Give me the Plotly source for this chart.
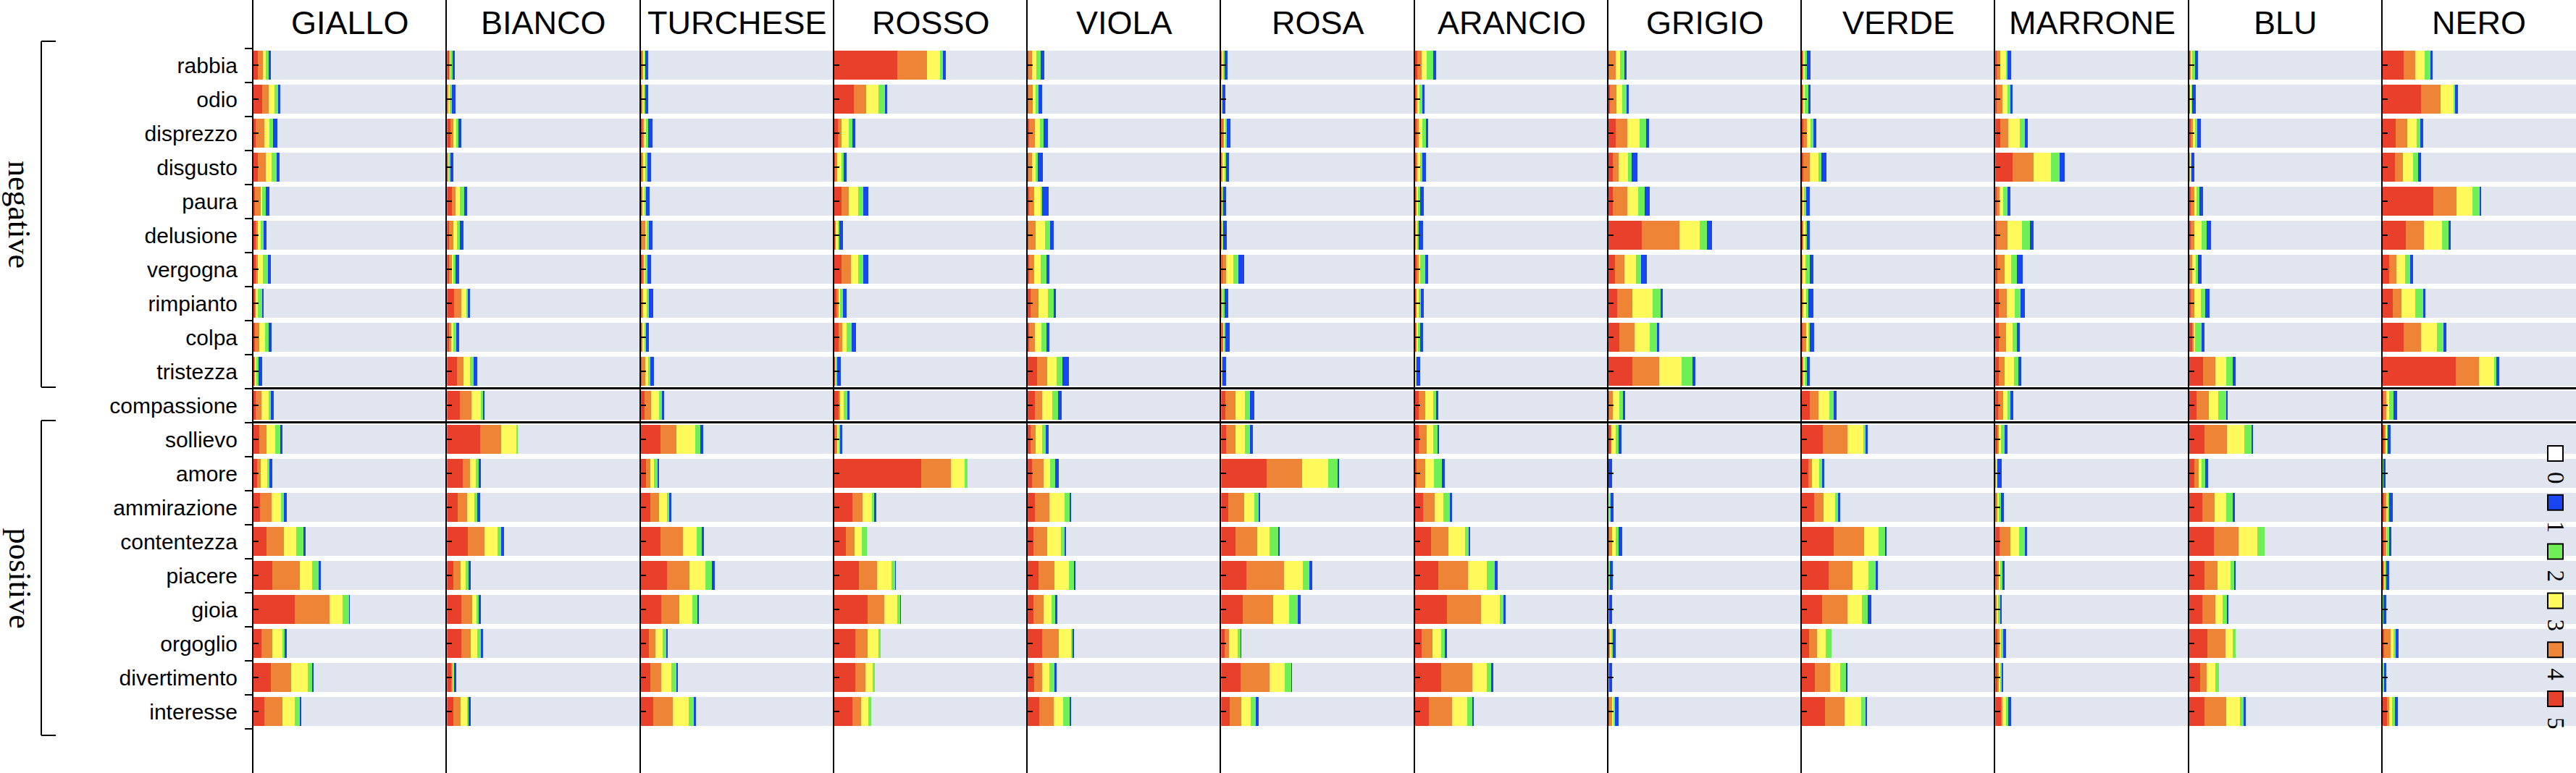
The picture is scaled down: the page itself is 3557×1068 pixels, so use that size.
import plotly.graph_objects as go
from plotly.subplots import make_subplots

W, H = 3557, 1068
ML = 350

COLOUR_NAMES = ["GIALLO", "BIANCO", "TURCHESE", "ROSSO", "VIOLA", "ROSA",
                "ARANCIO", "GRIGIO", "VERDE", "MARRONE", "BLU", "NERO"]
EMOTIONS = ["rabbia", "odio", "disprezzo", "disgusto", "paura", "delusione",
            "vergogna", "rimpianto", "colpa", "tristezza", "compassione",
            "sollievo", "amore", "ammirazione", "contentezza", "piacere",
            "gioia", "orgoglio", "divertimento", "interesse"]
LEVELS = ["5", "4", "3", "2", "1"]          # order of the values in each row
LEVEL_COLOURS = {"5": "#E8402A", "4": "#EE8536", "3": "#FFF95C",
                 "2": "#6EEF55", "1": "#1745F2", "0": "#E1E5EF"}

# percentage of answers per level [5, 4, 3, 2, 1]; level 0 is the remainder
GIALLO = [[2.2, 2.5, 1.8, 1.3, 1.3], [4.6, 3.3, 3.0, 1.8, 1.2], [1.3, 4.3, 2.6, 2.0, 2.2],
          [2.4, 3.9, 2.9, 2.6, 1.7], [0.7, 2.9, 1.0, 1.7, 1.8], [1.0, 1.2, 1.4, 1.7, 1.4],
          [1.2, 1.0, 2.7, 2.4, 1.8], [0.8, 0.5, 0.9, 2.2, 1.0], [0.7, 2.4, 3.0, 1.6, 1.6],
          [0.6, 0.4, 0.5, 1.0, 2.0], [1.0, 3.1, 3.7, 1.3, 1.3], [2.9, 4.0, 4.4, 2.6, 1.0],
          [2.0, 1.6, 3.4, 1.3, 1.3], [3.5, 5.9, 4.7, 1.8, 1.2], [6.8, 8.9, 6.5, 3.5, 1.3],
          [9.9, 14.1, 6.3, 3.7, 0.7], [21.4, 17.9, 6.8, 3.5, 0.1], [4.2, 5.5, 5.1, 1.6, 0.7],
          [8.9, 10.5, 8.5, 2.6, 0.7], [5.6, 9.5, 6.4, 2.4, 0.9]]
BIANCO = [[1.2, 0.5, 0.5, 0.7, 1.4], [0.4, 0.3, 0.8, 1.2, 1.7], [1.7, 1.8, 1.3, 1.0, 1.7],
          [0.5, 0.4, 0.5, 0.4, 1.7], [2.6, 2.0, 2.2, 2.2, 1.3], [1.3, 2.0, 1.8, 1.8, 1.6],
          [1.3, 1.2, 0.8, 1.2, 2.0], [3.9, 3.5, 2.6, 1.0, 1.0], [1.3, 0.9, 1.3, 1.3, 1.6],
          [5.2, 3.5, 3.4, 1.8, 2.0], [6.8, 6.0, 4.8, 1.3, 0.7], [17.3, 10.9, 7.8, 0.7, 0.0],
          [8.2, 3.8, 3.0, 1.3, 1.3], [5.5, 4.8, 4.1, 1.3, 1.4], [10.9, 8.5, 6.8, 2.0, 1.2],
          [3.5, 3.7, 2.6, 1.3, 1.2], [7.6, 5.5, 2.6, 0.7, 1.3], [7.6, 4.8, 3.3, 1.7, 1.2],
          [2.4, 0.7, 0.3, 0.4, 1.2], [3.5, 3.7, 3.3, 0.7, 1.2]]
TURCHESE = [[0.7, 0.6, 0.6, 0.4, 1.4], [0.4, 0.5, 0.8, 0.6, 1.3], [0.9, 0.5, 1.2, 1.0, 2.5],
            [0.6, 0.5, 1.2, 0.9, 2.1], [0.4, 0.4, 1.2, 0.8, 1.6], [0.4, 2.0, 0.6, 1.3, 1.8],
            [0.6, 0.9, 0.8, 0.9, 2.1], [0.6, 0.6, 1.7, 1.3, 2.0], [0.4, 0.3, 1.3, 0.6, 1.6],
            [0.4, 2.0, 1.3, 1.2, 1.7], [2.0, 3.3, 3.9, 1.7, 1.2], [10.0, 8.5, 9.5, 2.6, 1.7],
            [2.7, 2.1, 2.1, 1.8, 0.8], [4.8, 4.6, 4.0, 1.3, 0.9], [10.0, 11.7, 7.2, 2.7, 0.9],
            [13.3, 11.7, 8.2, 3.4, 1.4], [10.6, 9.1, 7.0, 2.6, 0.8], [4.0, 3.5, 3.9, 1.8, 0.8],
            [4.8, 5.5, 5.6, 2.7, 0.4], [6.4, 10.2, 8.0, 2.9, 0.8]]
ROSSO = [[32.4, 15.4, 6.8, 1.7, 1.3], [10.2, 6.3, 6.5, 3.3, 1.2], [1.7, 2.2, 3.7, 1.6, 1.7],
         [0.7, 0.7, 2.4, 1.0, 1.6], [3.7, 3.7, 4.8, 2.9, 2.5], [0.7, 0.4, 0.7, 0.9, 1.7],
         [3.7, 4.8, 3.7, 2.9, 2.5], [1.3, 1.2, 0.5, 1.6, 1.7], [2.1, 2.2, 2.2, 2.4, 2.2],
         [0.4, 0.2, 0.4, 0.5, 1.7], [2.1, 0.9, 1.7, 2.2, 1.0], [0.7, 0.7, 1.0, 0.7, 0.9],
         [44.8, 15.3, 7.3, 1.6, 0.0], [9.2, 5.4, 4.8, 1.3, 0.9], [6.0, 4.6, 3.5, 2.7, 0.0],
         [12.8, 9.2, 7.5, 2.1, 0.3], [17.1, 8.8, 6.8, 1.4, 0.4], [10.7, 6.4, 5.9, 0.9, 0.0],
         [10.7, 5.4, 3.7, 1.2, 0.0], [9.3, 4.4, 3.9, 1.4, 0.0]]
VIOLA = [[0.4, 2.0, 2.0, 2.2, 2.0], [0.4, 2.2, 1.7, 1.3, 2.0], [0.9, 3.0, 2.4, 1.8, 2.5],
         [0.4, 2.0, 1.6, 1.4, 2.6], [0.9, 2.4, 3.3, 1.0, 3.1], [0.4, 3.9, 4.8, 2.4, 1.8],
         [0.6, 2.6, 3.5, 3.0, 1.6], [1.6, 3.9, 5.0, 2.9, 1.3], [0.9, 3.0, 3.3, 2.4, 1.6],
         [5.0, 5.2, 4.6, 3.3, 3.3], [3.9, 3.5, 5.4, 3.1, 1.7], [1.6, 2.6, 3.3, 1.7, 1.7],
         [2.4, 5.8, 3.4, 2.6, 1.8], [3.9, 7.5, 7.8, 2.4, 0.8], [2.9, 7.2, 7.2, 1.7, 1.0],
         [5.5, 8.5, 7.3, 2.6, 0.9], [2.9, 5.2, 4.1, 2.2, 0.9], [7.6, 8.5, 6.4, 0.8, 0.7],
         [3.3, 4.3, 3.8, 2.6, 0.8], [5.9, 7.5, 5.0, 3.3, 0.9]]
ROSA = [[0.4, 0.2, 0.6, 0.6, 1.7], [0.2, 0.1, 0.1, 0.4, 1.3], [0.6, 1.0, 0.7, 0.7, 1.7],
        [0.4, 0.4, 1.3, 0.4, 1.8], [0.3, 0.1, 0.2, 0.4, 1.7], [0.3, 0.1, 0.4, 0.5, 1.6],
        [0.8, 2.0, 3.5, 2.6, 2.9], [0.4, 0.1, 0.6, 0.6, 2.0], [0.8, 0.5, 0.4, 0.7, 2.0],
        [0.2, 0.1, 0.2, 0.4, 1.7], [2.4, 5.2, 4.6, 2.9, 2.0], [2.7, 4.8, 5.0, 2.6, 1.2],
        [23.5, 18.4, 13.3, 5.0, 0.9], [3.9, 8.2, 5.0, 2.2, 1.0], [7.6, 11.1, 6.5, 4.2, 0.8],
        [13.1, 19.6, 9.5, 3.5, 1.4], [11.2, 15.9, 8.1, 4.6, 1.3], [1.7, 2.4, 4.4, 1.7, 0.4],
        [10.2, 14.8, 8.1, 3.3, 0.4], [4.6, 6.0, 4.6, 2.9, 1.3]]
ARANCIO = [[1.3, 2.0, 2.6, 3.3, 1.6], [0.4, 0.9, 1.0, 1.3, 1.2], [0.6, 1.3, 2.0, 1.6, 1.4],
           [0.6, 0.7, 1.4, 1.2, 1.6], [0.4, 0.7, 0.7, 0.7, 2.0], [0.3, 0.2, 0.5, 0.8, 2.2],
           [0.6, 1.3, 0.9, 2.4, 1.7], [0.4, 0.2, 1.4, 0.9, 1.7], [0.6, 0.4, 0.5, 1.3, 1.3],
           [0.2, 0.1, 0.3, 0.3, 1.7], [2.0, 3.3, 3.9, 2.0, 0.7], [2.0, 3.9, 3.3, 2.6, 0.7],
           [0.6, 4.8, 4.3, 4.3, 1.2], [4.2, 6.0, 4.4, 3.4, 0.9], [8.1, 9.2, 8.5, 2.1, 0.5],
           [11.8, 15.4, 9.7, 4.3, 1.3], [16.6, 17.6, 9.5, 2.0, 1.0], [3.3, 5.5, 4.7, 2.2, 0.7],
           [13.5, 15.9, 7.8, 2.4, 0.7], [7.2, 12.0, 7.8, 2.4, 0.8]]
GRIGIO = [[0.4, 3.5, 2.1, 2.2, 1.3], [0.7, 3.4, 3.1, 2.0, 1.4], [3.9, 5.9, 6.3, 3.3, 1.7],
          [2.1, 3.3, 4.6, 2.0, 2.9], [2.4, 7.5, 5.6, 3.3, 2.4], [17.1, 19.6, 10.3, 3.7, 2.9],
          [3.4, 4.8, 5.9, 2.9, 2.7], [4.6, 7.8, 10.6, 3.8, 1.4], [5.6, 7.8, 8.1, 3.7, 1.0],
          [12.2, 14.1, 11.6, 5.4, 1.6], [0.4, 2.0, 3.3, 1.7, 1.2], [1.3, 0.3, 2.1, 1.7, 1.3],
          [0.0, 0.0, 0.0, 0.1, 1.7], [0.2, 0.1, 0.4, 0.6, 1.3], [0.3, 1.7, 1.6, 1.6, 2.0],
          [0.0, 0.0, 0.2, 0.5, 1.6], [0.0, 0.0, 0.0, 0.2, 1.6], [0.6, 0.3, 0.7, 0.8, 1.4],
          [0.0, 0.0, 0.1, 0.2, 1.5], [0.4, 1.3, 1.0, 0.7, 1.7]]
VERDE = [[0.4, 0.3, 0.8, 1.0, 2.0], [0.4, 0.3, 0.9, 1.6, 1.4], [0.8, 2.0, 1.8, 1.3, 1.7],
         [0.8, 3.5, 4.3, 1.6, 2.6], [0.3, 0.2, 0.8, 0.8, 2.2], [0.5, 0.4, 0.8, 0.9, 1.6],
         [0.3, 0.2, 1.5, 2.0, 1.8], [0.3, 0.6, 1.3, 1.3, 2.6], [0.3, 2.0, 1.0, 0.9, 2.0],
         [0.4, 0.3, 0.8, 1.0, 1.6], [4.3, 4.2, 5.6, 2.4, 1.6], [10.9, 12.7, 8.2, 1.3, 0.9],
         [3.3, 2.1, 3.5, 1.7, 0.9], [6.3, 5.0, 5.9, 1.6, 0.9], [16.5, 15.6, 7.6, 3.3, 0.9],
         [13.7, 12.5, 8.4, 3.4, 1.2], [10.6, 12.9, 7.6, 3.0, 1.7], [3.7, 4.2, 4.3, 3.3, 0.0],
         [6.9, 7.8, 5.2, 2.9, 0.8], [11.9, 10.1, 8.5, 2.6, 0.7]]
MARRONE = [[0.6, 2.0, 3.3, 0.6, 1.6], [0.6, 3.0, 2.6, 1.6, 1.3], [2.6, 4.2, 5.9, 2.7, 1.6],
           [8.9, 11.0, 8.9, 4.6, 2.6], [0.6, 1.7, 1.8, 2.1, 1.6], [0.6, 5.6, 7.7, 3.9, 2.1],
           [1.3, 3.5, 3.3, 3.0, 3.0], [2.0, 3.9, 4.2, 3.0, 2.4], [2.0, 3.7, 3.1, 2.4, 1.6],
           [2.0, 2.9, 4.7, 2.2, 1.6], [1.6, 2.6, 2.1, 1.6, 1.6], [1.3, 0.7, 0.9, 2.0, 1.3],
           [0.3, 0.4, 0.4, 0.2, 2.2], [0.6, 0.6, 1.0, 0.7, 1.6], [2.4, 5.5, 4.3, 3.3, 0.9],
           [0.6, 1.3, 1.0, 0.7, 1.2], [0.4, 0.3, 0.9, 0.9, 0.9], [1.0, 1.6, 0.4, 1.3, 1.3],
           [1.3, 0.6, 1.0, 0.5, 0.8], [3.0, 0.9, 1.6, 1.4, 1.2]]
BLU = [[0.6, 0.4, 0.6, 1.3, 1.5], [0.6, 0.1, 0.6, 0.3, 1.9], [0.6, 1.4, 0.9, 1.3, 1.9],
       [0.3, 0.2, 0.4, 0.4, 1.3], [0.6, 2.1, 1.2, 1.3, 1.9], [0.6, 2.1, 3.5, 2.6, 2.3],
       [0.4, 1.0, 1.8, 1.3, 1.9], [0.6, 2.1, 3.1, 2.3, 2.2], [1.5, 1.0, 0.5, 3.5, 1.4],
       [7.2, 6.3, 5.5, 3.6, 1.5], [3.8, 6.2, 4.9, 4.1, 1.0], [7.8, 11.8, 8.7, 3.7, 0.8],
       [2.7, 2.2, 1.5, 1.9, 1.3], [6.8, 6.2, 6.0, 3.8, 0.6], [12.8, 12.8, 9.7, 3.8, 0.0],
       [7.8, 6.9, 6.8, 1.9, 0.6], [6.8, 6.7, 3.8, 2.3, 0.6], [9.4, 9.4, 3.8, 1.3, 0.0],
       [5.5, 3.6, 4.5, 1.8, 0.0], [7.7, 11.5, 7.1, 2.1, 0.6]]
NERO = [[10.9, 5.8, 4.9, 3.2, 1.2], [19.9, 10.0, 6.7, 1.0, 1.5], [6.8, 5.8, 5.1, 1.9, 1.2],
        [6.4, 4.2, 5.0, 2.6, 1.7], [26.3, 11.9, 8.3, 3.5, 1.0], [11.9, 9.6, 9.2, 3.5, 1.0],
        [3.2, 3.8, 4.7, 2.7, 1.5], [5.1, 4.5, 7.3, 4.0, 1.3], [10.9, 9.0, 8.1, 3.5, 1.5],
        [37.8, 11.9, 7.9, 1.3, 1.3], [0.4, 1.5, 1.4, 2.2, 1.9], [0.8, 0.9, 0.6, 0.4, 1.5],
        [0.0, 0.0, 0.0, 0.2, 1.3], [0.8, 1.1, 1.0, 0.6, 1.7], [0.8, 0.9, 0.9, 0.6, 1.3],
        [0.4, 0.6, 0.3, 0.6, 1.3], [0.0, 0.0, 0.0, 0.3, 1.6], [0.8, 3.2, 1.5, 1.3, 1.3],
        [0.0, 0.0, 0.2, 0.6, 1.2], [2.3, 0.9, 1.7, 1.3, 1.5]]

TABLE = [GIALLO, BIANCO, TURCHESE, ROSSO, VIOLA, ROSA,
         ARANCIO, GRIGIO, VERDE, MARRONE, BLU, NERO]

NCOL = len(COLOUR_NAMES)
rows_y = list(range(len(EMOTIONS)))

fig = make_subplots(rows=1, cols=NCOL, shared_yaxes=True, horizontal_spacing=0)

for c, (name, data) in enumerate(zip(COLOUR_NAMES, TABLE)):
    for li, lvl in enumerate(LEVELS):
        fig.add_trace(go.Bar(
            x=[row[li] for row in data], y=rows_y, orientation="h",
            width=0.86, name=lvl, showlegend=False,
            marker=dict(color=LEVEL_COLOURS[lvl], line_width=0)),
            row=1, col=c + 1)
    fig.add_trace(go.Bar(
        x=[100 - sum(row) for row in data], y=rows_y, orientation="h",
        width=0.86, name="0", showlegend=False,
        marker=dict(color=LEVEL_COLOURS["0"], line_width=0)),
        row=1, col=c + 1)

# pixel geometry helpers
PW = W - ML
def px(xp):
    return (xp - ML) / PW
def py(yp):
    return 1 - yp / H

ROW0, PITCH = 90.0, 47.0
y_top = -ROW0 / PITCH
y_bot = y_top + H / PITCH

fig.update_layout(
    width=W, height=H, margin=dict(l=ML, r=0, t=0, b=0),
    barmode="stack", bargap=0, showlegend=False,
    plot_bgcolor="white", paper_bgcolor="white",
    font=dict(family="Liberation Sans", color="black"),
)
fig.update_xaxes(range=[0, 100], showgrid=False, zeroline=False,
                 showticklabels=False, showline=False, fixedrange=True)
fig.update_yaxes(range=[y_bot, y_top], tickmode="array", tickvals=rows_y,
                 showgrid=False, zeroline=False, showline=True,
                 linecolor="black", linewidth=2, ticks="inside", ticklen=7,
                 tickwidth=2, tickcolor="black", fixedrange=True)
fig.update_yaxes(ticktext=EMOTIONS, showticklabels=True,
                 tickfont=dict(family="Liberation Sans", size=30, color="black"),
                 ticklabelstandoff=14,
                 minor=dict(tickmode="array", tickvals=[i + 0.5 for i in range(-1, 20)],
                            ticks="outside", ticklen=10, tickwidth=2, tickcolor="black"),
                 row=1, col=1)

shapes = []
annotations = []

# column headers
for c, name in enumerate(COLOUR_NAMES):
    xr = "x domain" if c == 0 else f"x{c + 1} domain"
    annotations.append(dict(text=name, xref=xr, x=0.5, yref="paper", y=py(32),
                            showarrow=False, xanchor="center", yanchor="middle",
                            font=dict(family="Liberation Sans", size=45, color="black")))

# lines around "compassione"
for yv in (9.5, 10.5):
    shapes.append(dict(type="line", xref="paper", x0=0, x1=1, yref="y", y0=yv, y1=yv,
                       line=dict(color="black", width=3), layer="above"))

# group brackets and labels
for (y0, y1, label) in [(57, 535, "negative"), (581, 1016, "positive")]:
    shapes.append(dict(type="line", xref="paper", yref="paper", x0=px(57), x1=px(57),
                       y0=py(y0), y1=py(y1), line=dict(color="black", width=2)))
    for yy in (y0, y1):
        shapes.append(dict(type="line", xref="paper", yref="paper", x0=px(57), x1=px(77),
                           y0=py(yy), y1=py(yy), line=dict(color="black", width=2)))
    annotations.append(dict(text=label, xref="paper", yref="paper", x=px(27),
                            y=py((y0 + y1) / 2), showarrow=False, textangle=90,
                            xanchor="center", yanchor="middle",
                            font=dict(family="Liberation Serif", size=44, color="black")))

# legend (rotated)
LEG_TOP, LEG_PITCH = 616, 67.8
for k, lvl in enumerate(["0", "1", "2", "3", "4", "5"]):
    yy = LEG_TOP + k * LEG_PITCH
    fill = "white" if lvl == "0" else LEVEL_COLOURS[lvl]
    shapes.append(dict(type="rect", xref="paper", yref="paper",
                       x0=px(3518), x1=px(3539), y0=py(yy), y1=py(yy + 21),
                       fillcolor=fill, line=dict(color="black", width=2), layer="above"))
    annotations.append(dict(text=lvl, xref="paper", yref="paper", x=px(3529),
                            y=py(yy + 44), showarrow=False, textangle=90,
                            xanchor="center", yanchor="middle",
                            font=dict(family="Liberation Serif", size=33, color="black")))

fig.update_layout(shapes=shapes, annotations=annotations)
fig.write_html("out.html")
